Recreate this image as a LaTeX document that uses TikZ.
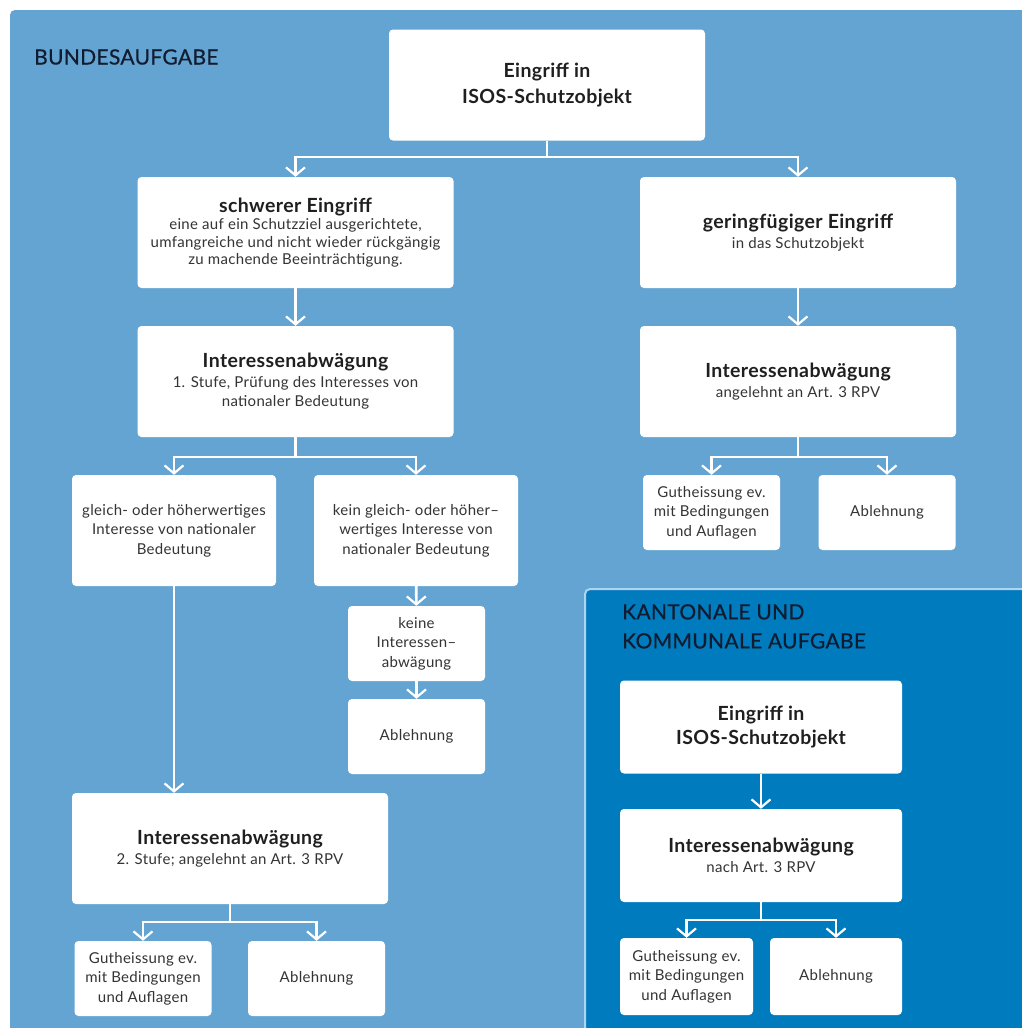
\documentclass[tikz,border=0pt]{standalone}
\usepackage{fontspec}
\setmainfont{Lato}[LetterSpace=2]
\newfontfamily\titelfont{Lato}[LetterSpace=1.5, FakeBold=0.6]
\usetikzlibrary{arrows.meta}
\definecolor{bundblau}{RGB}{100,164,210}
\definecolor{kantblau}{RGB}{0,123,190}
\definecolor{kantrand}{RGB}{176,212,238}
\definecolor{titeltext}{RGB}{18,28,48}
\definecolor{boxtext}{RGB}{52,52,52}
\tikzstyle{box} = [rectangle, fill=white, rounded corners=4pt, align=center, inner sep=0pt, text=boxtext, font=\fontsize{15}{19.5}\selectfont]
\tikzstyle{gross} = [box, minimum width=316pt, minimum height=111pt]
\tikzstyle{mittel} = [box, minimum width=204pt, minimum height=111pt]
\tikzstyle{klein} = [box, minimum width=137pt, minimum height=75pt]
\tikzstyle{kbox} = [box, minimum width=282pt, minimum height=93pt]
\tikzstyle{titel} = [inner sep=0pt, text=titeltext, align=left, font=\titelfont\fontsize{21}{29}\selectfont]
\tikzstyle{ln} = [draw=white, line width=2.6pt]
\tikzstyle{arr} = [ln, -{Straight Barb[length=8pt, width=19pt, line width=2.2pt]}]
\newcommand{\kopf}[1]{{\fontsize{19.5}{23}\selectfont\bfseries\color{black!88}#1}}

\begin{document}
\begin{tikzpicture}[x=1pt, y=-1pt]
    \clip (0,0) rectangle (1022,1028);
    \fill[white] (0,0) rectangle (1022,1028);
    \fill[bundblau, rounded corners=5pt] (10,10) rectangle (1040,1040);
    \draw[kantrand, line width=2pt, fill=kantblau, rounded corners=5pt] (585,589) rectangle (1040,1040);

    % titles
    \node[titel, anchor=west] (bund) at (34,57) {BUNDESAUFGABE};
    \node[titel, anchor=north west] (kant) at (622,604) {KANTONALE UND\\KOMMUNALE AUFGABE};

    % Bundesaufgabe
    \node[gross] (eingriff) at (547,85) {\kopf{Eingriff in}\\[6pt]\kopf{ISOS-Schutzobjekt}};
    \node[gross, font=\fontsize{15}{17.5}\selectfont] (schwer) at (295.5,232.5) {\kopf{schwerer Eingriff}\\eine auf ein Schutzziel ausgerichtete,\\umfangreiche und nicht wieder rückgängig\\zu machende Beeinträchtigung.};
    \node[gross] (gering) at (798,232.5) {\kopf{geringfügiger Eingriff}\\in das Schutzobjekt};
    \node[gross] (abw1) at (295.5,381.5) {\kopf{Interessenabwägung}\\1. Stufe, Prüfung des Interesses von\\nationaler Bedeutung};
    \node[gross] (abwr) at (798,381.5) {\kopf{Interessenabwägung}\\angelehnt an Art. 3 RPV};
    \node[mittel] (gleich) at (174,530.5) {gleich- oder höherwertiges\\Interesse von nationaler\\Bedeutung};
    \node[mittel] (kein) at (416,530.5) {kein gleich- oder höher–\\wertiges Interesse von\\nationaler Bedeutung};
    \node[klein] (keine) at (416.5,643.5) {keine\\Interessen–\\abwägung};
    \node[klein] (abl1) at (416.5,736.5) {Ablehnung};
    \node[gross] (abw2) at (230,848.5) {\kopf{Interessenabwägung}\\2. Stufe; angelehnt an Art. 3 RPV};
    \node[klein] (gut2) at (143,978.5) {Gutheissung ev.\\mit Bedingungen\\und Auflagen};
    \node[klein] (abl2) at (316.5,978.5) {Ablehnung};
    \node[klein] (gutr) at (711.5,512.5) {Gutheissung ev.\\mit Bedingungen\\und Auflagen};
    \node[klein] (ablr) at (887,512.5) {Ablehnung};

    % Kantonale und kommunale Aufgabe
    \node[kbox] (keingriff) at (761,727) {\kopf{Eingriff in}\\[5pt]\kopf{ISOS-Schutzobjekt}};
    \node[kbox] (kabw) at (761,855.5) {\kopf{Interessenabwägung}\\nach Art. 3 RPV};
    \node[klein, minimum width=133pt, minimum height=77pt] (kgut) at (686.5,976.5) {Gutheissung ev.\\mit Bedingungen\\und Auflagen};
    \node[klein, minimum width=132pt, minimum height=77pt] (kabl) at (836,976.5) {Ablehnung};

    % connectors
    \coordinate (j1) at (547,157);
    \coordinate (j2) at (295.5,457);
    \coordinate (j3) at (798,457);
    \coordinate (j4) at (230,922);
    \coordinate (j5) at (761,920);
    \draw[ln] (eingriff) -- (j1);
    \draw[arr] (j1) -| (schwer);
    \draw[arr] (j1) -| (gering);
    \draw[arr] (schwer) -- (abw1);
    \draw[arr] (gering) -- (abwr);
    \draw[ln] (abw1) -- (j2);
    \draw[arr] (j2) -| (gleich);
    \draw[arr] (j2) -| (kein);
    \draw[ln] (abwr) -- (j3);
    \draw[arr] (j3) -| (gutr);
    \draw[arr] (j3) -| (ablr);
    \draw[arr] (gleich.south) -- (gleich.south |- abw2.north);
    \draw[arr] (kein) -- (keine);
    \draw[arr] (keine) -- (abl1);
    \draw[ln] (abw2) -- (j4);
    \draw[arr] (j4) -| (gut2);
    \draw[arr] (j4) -| (abl2);
    \draw[arr] (keingriff) -- (kabw);
    \draw[ln] (kabw) -- (j5);
    \draw[arr] (j5) -| (kgut);
    \draw[arr] (j5) -| (kabl);
\end{tikzpicture}
\end{document}
